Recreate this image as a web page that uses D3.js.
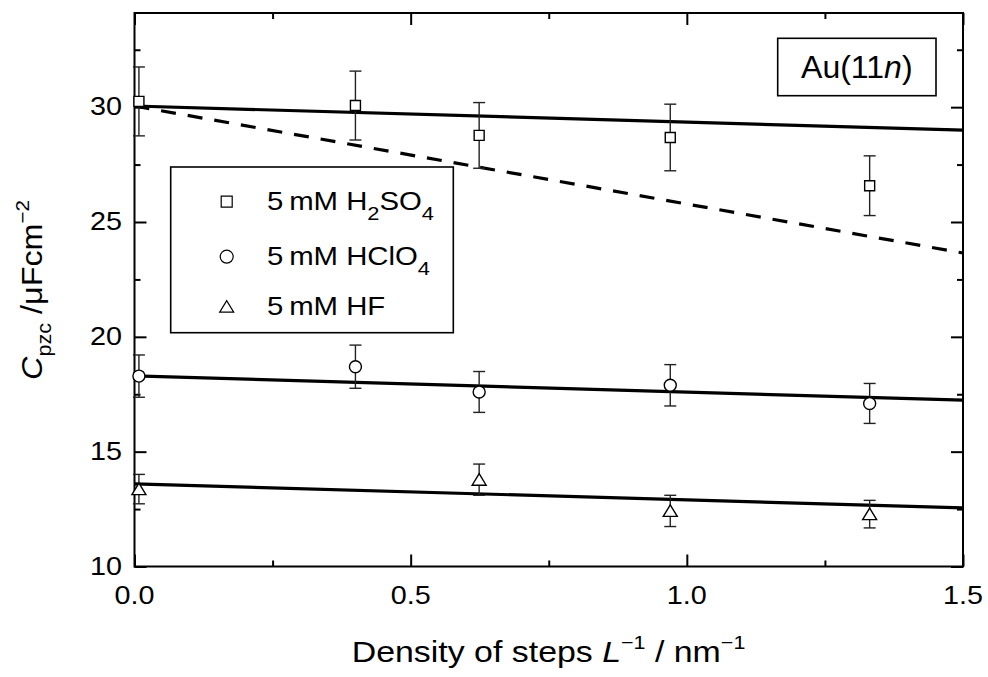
<!DOCTYPE html>
<html>
<head>
<meta charset="utf-8">
<script src="https://cdn.jsdelivr.net/npm/d3@7"></script>
<style>
  body { margin: 0; background: #fff; }
  text { font-family: "Liberation Sans", Arial, sans-serif; fill: #000; }
</style>
</head>
<body>
<div class="chart"></div>
<script>
// measured values
const stepDensity = [0.008, 0.4, 0.624, 0.97, 1.331];
const h2so4 = [30.25, 30.07, 28.77, 28.68, 26.58];
const h2so4Err = [1.5, 1.5, 1.43, 1.45, 1.3];
const hclo4 = [18.29, 18.7, 17.6, 17.89, 17.1];
const hclo4Err = [0.92, 0.94, 0.89, 0.9, 0.87];
const hfDensity = [0.008, 0.624, 0.97, 1.331];
const hf = [13.37, 13.78, 12.42, 12.28];
const hfErr = [0.64, 0.68, 0.68, 0.6];

const fitX = [0, 1.5];
const h2so4Fit = [30.05, 29.0];
const h2so4Dashed = [30.05, 23.65];
const hclo4Fit = [18.3, 17.24];
const hfFit = [13.6, 12.55];

const xMajor = [0, 0.5, 1.0, 1.5];
const xMinor = [0.25, 0.75, 1.25];
const yMajor = [10, 15, 20, 25, 30];
const yMinor = [12.5, 17.5, 22.5, 27.5, 32.5];

const legendNames = [
  ["5\u2009mM H", "2", "SO", "4"],
  ["5\u2009mM HClO", "4"],
  ["5\u2009mM HF"],
];

const svgWidth = 988,
  svgHeight = 677,
  plotLeft = 134.5,
  plotRight = 963,
  plotTop = 13,
  plotBottom = 566.5,
  stretch = 1.15;

const svg = d3
  .select(".chart")
  .append("svg")
  .attr("width", svgWidth)
  .attr("height", svgHeight);

const x = d3.scaleLinear().domain([0, 1.5]).range([plotLeft, plotRight]);
const y = d3.scaleLinear().domain([10, 34.1]).range([plotBottom, plotTop]);

// ticks on all four sides, pointing inward
function ticks(axis, pos, values, size) {
  const g = svg
    .append("g")
    .attr("transform", pos)
    .call(axis.tickValues(values).tickSize(-size).tickFormat(""));
  g.select(".domain").remove();
  g.selectAll("line").attr("stroke", "#000").attr("stroke-width", 2);
  return g;
}

ticks(d3.axisBottom(x), `translate(0,${plotBottom})`, xMajor, 12);
ticks(d3.axisBottom(x), `translate(0,${plotBottom})`, xMinor, 6);
ticks(d3.axisTop(x), `translate(0,${plotTop})`, xMajor, 12);
ticks(d3.axisTop(x), `translate(0,${plotTop})`, xMinor, 6);
ticks(d3.axisLeft(y), `translate(${plotLeft},0)`, yMajor, 12);
ticks(d3.axisLeft(y), `translate(${plotLeft},0)`, yMinor, 6);
ticks(d3.axisRight(y), `translate(${plotRight},0)`, yMajor, 12);
ticks(d3.axisRight(y), `translate(${plotRight},0)`, yMinor, 6);

svg
  .append("rect")
  .attr("x", plotLeft)
  .attr("y", plotTop)
  .attr("width", plotRight - plotLeft)
  .attr("height", plotBottom - plotTop)
  .attr("fill", "none")
  .attr("stroke", "#000")
  .attr("stroke-width", 2);

// tick labels
svg
  .selectAll(".xlabel")
  .data(xMajor)
  .enter()
  .append("text")
  .attr("transform", (d) => `translate(${x(d)},604) scale(${stretch},1)`)
  .attr("text-anchor", "middle")
  .style("font-size", "25px")
  .text(d3.format(".1f"));

svg
  .selectAll(".ylabel")
  .data(yMajor)
  .enter()
  .append("text")
  .attr("transform", (d) => `translate(122,${y(d) + 8}) scale(${stretch},1)`)
  .attr("text-anchor", "end")
  .style("font-size", "25px")
  .text((d) => d);

// fit lines
const line = d3
  .line()
  .x((d) => x(d[0]))
  .y((d) => y(d[1]));

[h2so4Fit, hclo4Fit, hfFit].forEach((fit) => {
  svg
    .append("path")
    .attr("d", line(d3.zip(fitX, fit)))
    .attr("stroke", "#000")
    .attr("stroke-width", 3.2)
    .attr("fill", "none");
});

svg
  .append("path")
  .attr("d", line(d3.zip(fitX, h2so4Dashed)))
  .attr("stroke", "#000")
  .attr("stroke-width", 3.2)
  .attr("stroke-dasharray", "15,12")
  .attr("fill", "none");

// error bars and markers
const square = "M-5,-5H5V5H-5Z";
const circle = d3.symbol().type(d3.symbolCircle).size(Math.PI * 36)();
const triangle = "M-7,5.5H7L0,-6Z";

function series(xs, ys, errs, shape) {
  const pts = d3.zip(xs, ys, errs);
  const g = svg.append("g");
  const bar = g
    .selectAll("g")
    .data(pts)
    .enter()
    .append("g")
    .attr("stroke", "#222")
    .attr("stroke-width", 1.4);
  bar
    .append("line")
    .attr("x1", (d) => x(d[0]))
    .attr("x2", (d) => x(d[0]))
    .attr("y1", (d) => y(d[1] + d[2]))
    .attr("y2", (d) => y(d[1] - d[2]));
  [1, -1].forEach((s) => {
    bar
      .append("line")
      .attr("x1", (d) => x(d[0]) - 6)
      .attr("x2", (d) => x(d[0]) + 6)
      .attr("y1", (d) => y(d[1] + s * d[2]))
      .attr("y2", (d) => y(d[1] + s * d[2]));
  });
  g.selectAll("path")
    .data(pts)
    .enter()
    .append("path")
    .attr("d", shape)
    .attr("transform", (d) => `translate(${x(d[0])},${y(d[1])})`)
    .attr("fill", "#fff")
    .attr("stroke", "#000")
    .attr("stroke-width", 1.4);
}

series(stepDensity, h2so4, h2so4Err, square);
series(stepDensity, hclo4, hclo4Err, circle);
series(hfDensity, hf, hfErr, triangle);

// legend
svg
  .append("rect")
  .attr("x", 170.7)
  .attr("y", 167)
  .attr("width", 282.6)
  .attr("height", 165.7)
  .attr("fill", "#fff")
  .attr("stroke", "#000")
  .attr("stroke-width", 1.6);

const legendRows = [201.7, 256.7, 306.7];
const legendShapes = [
  "M-5.5,-5.5H5.5V5.5H-5.5Z",
  d3.symbol().type(d3.symbolCircle).size(Math.PI * 42)(),
  triangle,
];

legendShapes.forEach((shape, i) => {
  svg
    .append("path")
    .attr("d", shape)
    .attr("transform", `translate(226.7,${legendRows[i]})`)
    .attr("fill", "#fff")
    .attr("stroke", "#000")
    .attr("stroke-width", 1.2);

  const t = svg
    .append("text")
    .attr("transform", `translate(267,${legendRows[i] + 8.5}) scale(${stretch},1)`)
    .style("font-size", "25.5px");
  legendNames[i].forEach((part, j) => {
    const sub = j % 2 === 1;
    t.append("tspan")
      .attr("dy", j === 0 ? 0 : sub ? 10 : -10)
      .style("font-size", sub ? "19px" : null)
      .text(part);
  });
});

// sample label
svg
  .append("rect")
  .attr("x", 777.7)
  .attr("y", 38.3)
  .attr("width", 158.3)
  .attr("height", 57.4)
  .attr("fill", "none")
  .attr("stroke", "#000")
  .attr("stroke-width", 1.6);

const au = svg
  .append("text")
  .attr("x", 856.8)
  .attr("y", 78.3)
  .attr("text-anchor", "middle")
  .style("font-size", "32px");
au.append("tspan").text("Au(11");
au.append("tspan").style("font-style", "italic").text("n");
au.append("tspan").text(")");

// axis titles
const xt = svg
  .append("text")
  .attr("transform", `translate(548.5,661.7) scale(1.13,1)`)
  .attr("text-anchor", "middle")
  .style("font-size", "30px");
xt.append("tspan").text("Density of steps ");
xt.append("tspan").style("font-style", "italic").text("L");
xt.append("tspan").attr("dy", -13).style("font-size", "19px").text("\u22121");
xt.append("tspan").attr("dy", 13).text(" / nm");
xt.append("tspan").attr("dy", -13).style("font-size", "19px").text("\u22121");

const yt = svg
  .append("text")
  .attr("transform", `translate(42,290) rotate(-90) scale(1.08,1)`)
  .attr("text-anchor", "middle")
  .style("font-size", "30px");
yt.append("tspan").style("font-style", "italic").text("C");
yt.append("tspan").attr("dy", 9).style("font-size", "20px").text("pzc");
yt.append("tspan").attr("dy", -9).text(" /\u03bcFcm");
yt.append("tspan").attr("dy", -13).style("font-size", "19px").text("\u22122");
</script>
</body>
</html>
